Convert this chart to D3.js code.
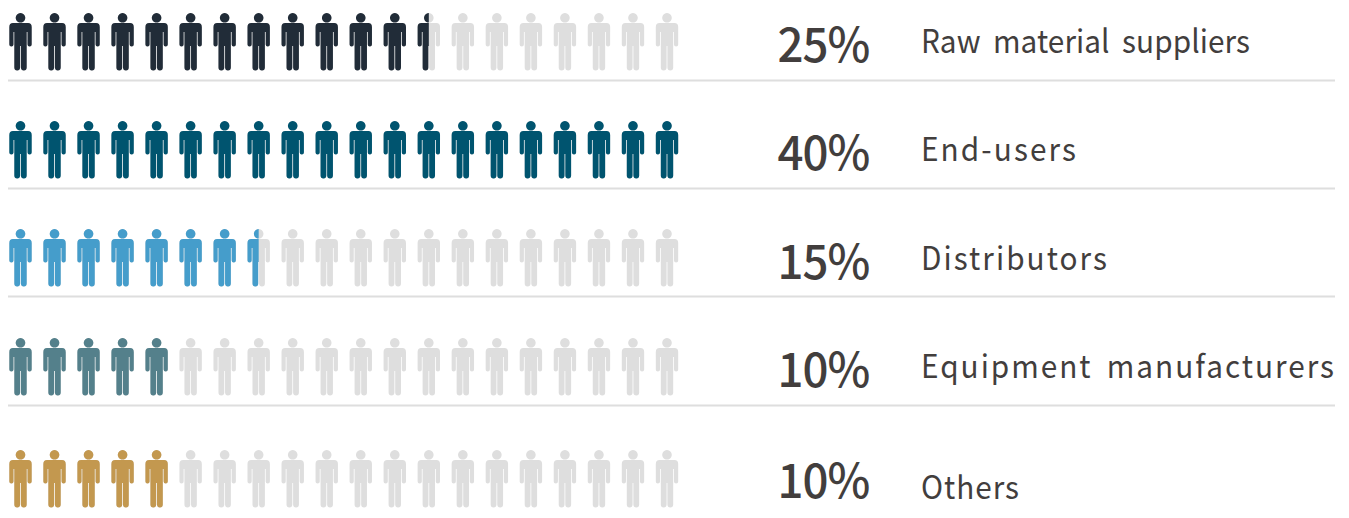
<!DOCTYPE html>
<html>
<head>
<meta charset="utf-8">
<script src="https://cdn.jsdelivr.net/npm/d3@7"></script>
<style>
  html, body { margin: 0; padding: 0; background: #fff; }
  svg { display: block; }
  text { font-family: "Noto Sans CJK KR", "Noto Sans", sans-serif; fill: #423e3d; }
</style>
</head>
<body>
<svg id="chart" width="1349" height="518"></svg>
<script>
const categories = ["Raw material suppliers", "End-users", "Distributors", "Equipment manufacturers", "Others"];
const shares = [25, 40, 15, 10, 10];
const colors = ["#212c38", "#00546f", "#459dcb", "#54808b", "#c3984f"];
const rowTops = [13, 121, 229, 338, 450];
const ruleYs = [80.5, 188.5, 296.5, 405.5];
const percentBaselines = [62, 170, 279, 387, 498];
const labelBaselines = [53, 161, 270, 378, 499];
const labelWidths = [329, 155, 186, 413, 98];

const iconCount = 20;
const svg = d3.select("#chart");

// every icon is worth 2%, so 40% fills the whole row
const iconScale = d3.scaleLinear().domain([0, 40]).range([0, iconCount]);
const x = d3.scaleLinear().domain([0, iconCount - 1]).range([20.5, 667]);

// person drawn around x=0, top of the head at y=0
const person = "M0,0 a4.8,4.8 0 1,1 -0.01,0 Z" +
  "M-7.5,10 H7.5 Q11.2,10 11.2,14 V31.5 Q11.2,33.6 9.1,33.6 Q7,33.6 7,31.5 V19 H6.2 V54.5 Q6.2,57.5 3.3,57.5 Q0.5,57.5 0.4,54.5 V33 H-0.4 V54.5 Q-0.5,57.5 -3.3,57.5 Q-6.2,57.5 -6.2,54.5 V19 H-7 V31.5 Q-7,33.6 -9.1,33.6 Q-11.2,33.6 -11.2,31.5 V14 Q-11.2,10 -7.5,10 Z";

const defs = svg.append("defs");

categories.forEach((cat, i) => {
  const g = svg.append("g").attr("transform", `translate(0,${rowTops[i]})`);
  const filled = iconScale(shares[i]);

  g.selectAll(".bg")
    .data(d3.range(iconCount))
    .enter().append("path")
    .attr("class", "bg")
    .attr("d", person)
    .attr("transform", d => `translate(${x(d)},0)`)
    .attr("fill", "#dedede");

  // the last coloured figure can be cut in half
  const clipId = "clip-" + i;
  const partial = filled - Math.floor(filled);
  const lastX = partial > 0 ? x(Math.floor(filled)) : x(filled - 1) + 12;
  defs.append("clipPath").attr("id", clipId)
    .append("rect")
    .attr("x", 0)
    .attr("y", -2)
    .attr("width", lastX)
    .attr("height", 62);

  g.append("g").attr("clip-path", `url(#${clipId})`)
    .selectAll(".fg")
    .data(d3.range(Math.ceil(filled)))
    .enter().append("path")
    .attr("class", "fg")
    .attr("d", person)
    .attr("transform", d => `translate(${x(d)},0)`)
    .attr("fill", colors[i]);

  // reference type is a touch narrower than the installed face
  svg.append("text")
    .attr("transform", `translate(777.5,${percentBaselines[i]}) scale(0.97,1)`)
    .attr("font-size", 47)
    .attr("font-weight", 500)
    .attr("letter-spacing", -1)
    .text(shares[i] + "%");

  svg.append("text")
    .attr("transform", `translate(921,${labelBaselines[i]}) scale(0.93,1)`)
    .attr("font-size", 32)
    .attr("word-spacing", 6)
    .attr("textLength", labelWidths[i] / 0.93)
    .attr("lengthAdjust", "spacing")
    .text(cat);
});

svg.selectAll(".rule")
  .data(ruleYs)
  .enter().append("line")
  .attr("class", "rule")
  .attr("x1", 8)
  .attr("x2", 1335)
  .attr("y1", d => d)
  .attr("y2", d => d)
  .attr("stroke", "#dedede")
  .attr("stroke-width", 2);
</script>
</body>
</html>
